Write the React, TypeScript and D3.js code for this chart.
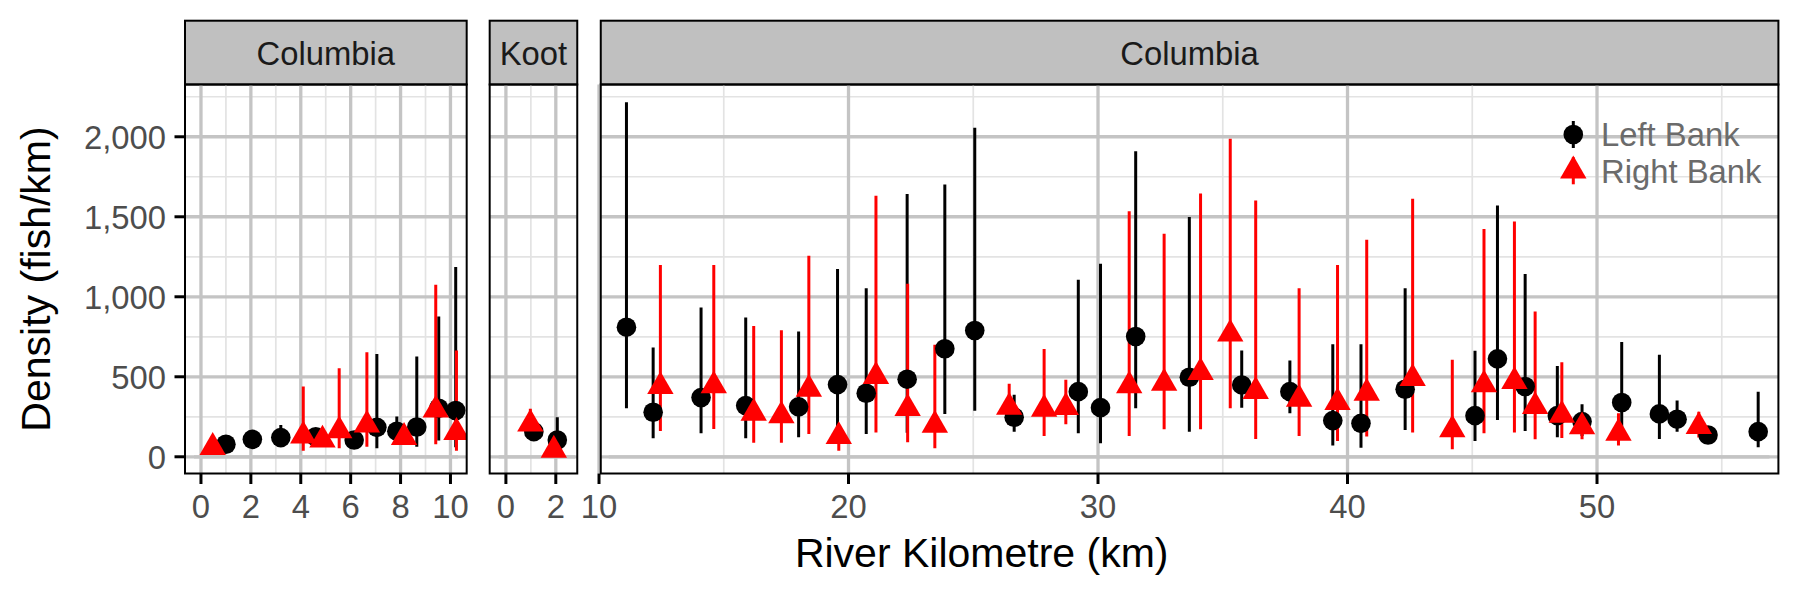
import React from "react";
import * as d3 from "d3";

// ---- data ----
const panelLabels = ["Columbia", "Koot", "Columbia"];
const panelDomains: [number, number][] = [[-0.64, 10.65], [-0.65, 2.86], [10.07, 57.27]];
const panelTicks = [[0, 2, 4, 6, 8, 10], [0, 2], [10, 20, 30, 40, 50]];
const panelMinor = [[1, 3, 5, 7, 9], [1], [15, 25, 35, 45, 55]];
const zeroLineExtent: [number, number][] = [[-0.28, 10.3], [-0.29, 2.77], [10.39, 56.91]];
const yTicks = [0, 500, 1000, 1500, 2000];
const yMinor = [250, 750, 1250, 1750, 2250];
const yDomain: [number, number] = [-104.5, 2326.7];
const seriesNames = ["Left Bank", "Right Bank"];

// [panel, km, density, lower, upper]
const leftBank: [number, number, number, number, number][] = [
  [0, 1.0, 78, 60, 95],
  [0, 2.06, 109, 80, 160],
  [0, 3.2, 120, 90, 199],
  [0, 4.6, 125, 95, 170],
  [0, 6.14, 105, 80, 130],
  [0, 7.05, 184, 53, 643],
  [0, 7.85, 160, 100, 251],
  [0, 8.65, 186, 63, 626],
  [0, 9.53, 303, 101, 877],
  [0, 10.21, 289, 60, 1186],
  [1, 1.12, 157, 120, 200],
  [1, 2.06, 105, 60, 247],
  [2, 11.1, 810, 303, 2216],
  [2, 12.17, 278, 116, 683],
  [2, 14.09, 370, 147, 933],
  [2, 15.88, 320, 116, 870],
  [2, 18.0, 312, 122, 783],
  [2, 19.56, 451, 110, 1173],
  [2, 20.71, 397, 143, 1054],
  [2, 22.35, 485, 150, 1643],
  [2, 23.86, 675, 268, 1701],
  [2, 25.06, 789, 287, 2056],
  [2, 26.64, 247, 157, 387],
  [2, 29.21, 407, 147, 1106],
  [2, 30.1, 307, 84, 1207],
  [2, 31.51, 752, 303, 1909],
  [2, 33.66, 497, 157, 1499],
  [2, 35.76, 449, 307, 664],
  [2, 37.69, 407, 272, 601],
  [2, 39.41, 226, 70, 704],
  [2, 40.54, 209, 57, 704],
  [2, 42.31, 422, 168, 1054],
  [2, 45.11, 257, 99, 662],
  [2, 46.01, 612, 230, 1571],
  [2, 47.12, 439, 161, 1142],
  [2, 48.41, 257, 122, 568],
  [2, 49.4, 220, 130, 329],
  [2, 50.99, 339, 140, 717],
  [2, 52.5, 268, 111, 637],
  [2, 53.21, 235, 157, 351],
  [2, 54.45, 136, 110, 165],
  [2, 56.46, 157, 59, 407],
];

const rightBank: [number, number, number, number, number][] = [
  [0, 0.47, 59, 40, 80],
  [0, 4.1, 131, 38, 439],
  [0, 4.87, 105, 80, 140],
  [0, 5.54, 163, 53, 554],
  [0, 6.65, 199, 63, 654],
  [0, 8.14, 122, 90, 160],
  [0, 9.41, 293, 78, 1075],
  [0, 10.24, 153, 38, 664],
  [1, 0.98, 205, 150, 300],
  [1, 1.92, 42, 20, 70],
  [2, 12.46, 440, 161, 1198],
  [2, 14.6, 444, 174, 1198],
  [2, 16.2, 273, 88, 818],
  [2, 17.31, 257, 88, 791],
  [2, 18.41, 423, 143, 1257],
  [2, 19.61, 127, 38, 200],
  [2, 21.1, 503, 151, 1632],
  [2, 22.37, 302, 91, 1081],
  [2, 23.46, 198, 53, 700],
  [2, 26.44, 310, 200, 456],
  [2, 27.84, 298, 130, 673],
  [2, 28.71, 309, 203, 481],
  [2, 31.25, 444, 130, 1534],
  [2, 32.65, 461, 172, 1394],
  [2, 34.11, 528, 172, 1645],
  [2, 35.3, 768, 303, 1987],
  [2, 36.32, 409, 111, 1601],
  [2, 38.06, 361, 130, 1054],
  [2, 39.6, 340, 98, 1198],
  [2, 40.77, 398, 126, 1357],
  [2, 42.61, 490, 151, 1613],
  [2, 44.2, 169, 47, 606],
  [2, 45.47, 451, 147, 1424],
  [2, 46.69, 471, 151, 1471],
  [2, 47.52, 315, 109, 908],
  [2, 48.59, 261, 118, 591],
  [2, 49.4, 188, 110, 250],
  [2, 50.86, 148, 70, 272],
  [2, 54.08, 190, 120, 282],
];

// ---- layout ----
const W = 1799;
const H = 599;
const plotLeft = 185;
const pxPerKm = 24.95;
const panelGaps = [23, 23.5];
const panelTop = 84.5;
const panelBottom = 473.5;
const stripTop = 20.7;
const FONT = "'Liberation Sans', Arial, Helvetica, sans-serif";
const tickFont = 32.8;
const titleFont = 41;
const R = 9.8;
const colors = ["#000000", "#ff0000"];

function trianglePath(cx: number, cy: number, r: number) {
  const t0 = 1.5551 * r, t1 = 1.3468 * r, t2 = 0.7776 * r;
  return `M${cx},${cy - t0}L${cx + t1},${cy + t2}L${cx - t1},${cy + t2}Z`;
}

export default function App() {
  const y = d3.scaleLinear().domain(yDomain).range([panelBottom, panelTop]);
  let cursor = plotLeft;
  const panels = panelDomains.map((dom, i) => {
    const w = (dom[1] - dom[0]) * pxPerKm;
    const x0 = cursor;
    const x1 = cursor + w;
    cursor = x1 + (panelGaps[i] ?? 0);
    const x = d3.scaleLinear().domain(dom).range([x0, x1]);
    return { x, x0, x1, i };
  });
  const plotRight = panels[panels.length - 1].x1;
  const series = [leftBank, rightBank];

  return (
    <svg width={W} height={H} style={{ display: "block", position: "absolute", left: 0, top: 0 }} fontFamily={FONT}>
      <rect x={0} y={0} width={W} height={H} fill="#fff" />
      {panels.map((p) => (
        <g key={p.i}>
          {/* strip */}
          <rect x={p.x0} y={stripTop} width={p.x1 - p.x0} height={panelTop - stripTop} fill="#c0c0c0" stroke="#000" strokeWidth={2} />
          <text x={(p.x0 + p.x1) / 2} y={65} textAnchor="middle" fontSize={tickFont} fill="#1a1a1a">{panelLabels[p.i]}</text>
          {/* grids */}
          {yMinor.map((v) => (
            <line key={"ym" + v} x1={p.x0} x2={p.x1} y1={y(v)} y2={y(v)} stroke="#e3e3e3" strokeWidth={1.7} />
          ))}
          {panelMinor[p.i].map((v) => (
            <line key={"xm" + v} x1={p.x(v)} x2={p.x(v)} y1={panelTop} y2={panelBottom} stroke="#e3e3e3" strokeWidth={1.7} />
          ))}
          {yTicks.map((v) => (
            <line key={"yM" + v} x1={p.x0} x2={p.x1} y1={y(v)} y2={y(v)} stroke="#c4c4c4" strokeWidth={3.3} />
          ))}
          {panelTicks[p.i].map((v) => (
            <line key={"xM" + v} x1={p.x(v)} x2={p.x(v)} y1={panelTop} y2={panelBottom} stroke="#c4c4c4" strokeWidth={3.3} />
          ))}
          {/* zero line */}
          <line x1={p.x(zeroLineExtent[p.i][0])} x2={p.x(zeroLineExtent[p.i][1])} y1={y(0)} y2={y(0)} stroke="#c4c4c4" strokeWidth={3.3} />
          <clipPath id={"clip" + p.i}>
            <rect x={p.x0} y={panelTop} width={p.x1 - p.x0} height={panelBottom - panelTop} />
          </clipPath>
          <g clipPath={`url(#clip${p.i})`}>
            {series.map((s, si) =>
              s.filter((d) => d[0] === p.i).map((d, k) => (
                <line key={"e" + si + "-" + k} x1={p.x(d[1])} x2={p.x(d[1])} y1={y(d[3])} y2={y(d[4])} stroke={colors[si]} strokeWidth={3} />
              ))
            )}
            {series.map((s, si) =>
              s.filter((d) => d[0] === p.i).map((d, k) =>
                si === 0 ? (
                  <circle key={"p" + si + "-" + k} cx={p.x(d[1])} cy={y(d[2])} r={R} fill={colors[si]} />
                ) : (
                  <path key={"p" + si + "-" + k} d={trianglePath(p.x(d[1]), y(d[2]), R)} fill={colors[si]} />
                )
              )
            )}
          </g>
          {/* border */}
          <rect x={p.x0} y={panelTop} width={p.x1 - p.x0} height={panelBottom - panelTop} fill="none" stroke="#000" strokeWidth={2} />
          {/* x axis ticks */}
          {panelTicks[p.i].map((v) => (
            <g key={"xt" + v}>
              <line x1={p.x(v)} x2={p.x(v)} y1={panelBottom} y2={panelBottom + 10.5} stroke="#000" strokeWidth={3} />
              <text x={p.x(v)} y={518} textAnchor="middle" fontSize={tickFont} fill="#4d4d4d">{v}</text>
            </g>
          ))}
        </g>
      ))}
      {/* y axis */}
      {yTicks.map((v) => (
        <g key={"yt" + v}>
          <line x1={plotLeft - 10.5} x2={plotLeft} y1={y(v)} y2={y(v)} stroke="#000" strokeWidth={3} />
          <text x={166} y={y(v)} dy="0.36em" textAnchor="end" fontSize={tickFont} fill="#4d4d4d">{d3.format(",")(v)}</text>
        </g>
      ))}
      {/* axis titles */}
      <text x={(plotLeft + plotRight) / 2} y={567} textAnchor="middle" fontSize={titleFont} fill="#000">River Kilometre (km)</text>
      <text transform={`translate(50,${(panelTop + panelBottom) / 2}) rotate(-90)`} textAnchor="middle" fontSize={titleFont} fill="#000">Density (fish/km)</text>
      {/* legend */}
      {seriesNames.map((name, si) => {
        const cy = 134.5 + si * 36.3;
        const cx = 1573.3;
        return (
          <g key={name}>
            <line x1={cx} x2={cx} y1={cy - 13.5} y2={cy + 13.5} stroke={colors[si]} strokeWidth={3} />
            {si === 0 ? (
              <circle cx={cx} cy={cy} r={R} fill={colors[si]} />
            ) : (
              <path d={trianglePath(cx, cy, R)} fill={colors[si]} />
            )}
            <text x={1601} y={cy} dy="0.36em" fontSize={tickFont} fill="#6b6b6b">{name}</text>
          </g>
        );
      })}
    </svg>
  );
}
